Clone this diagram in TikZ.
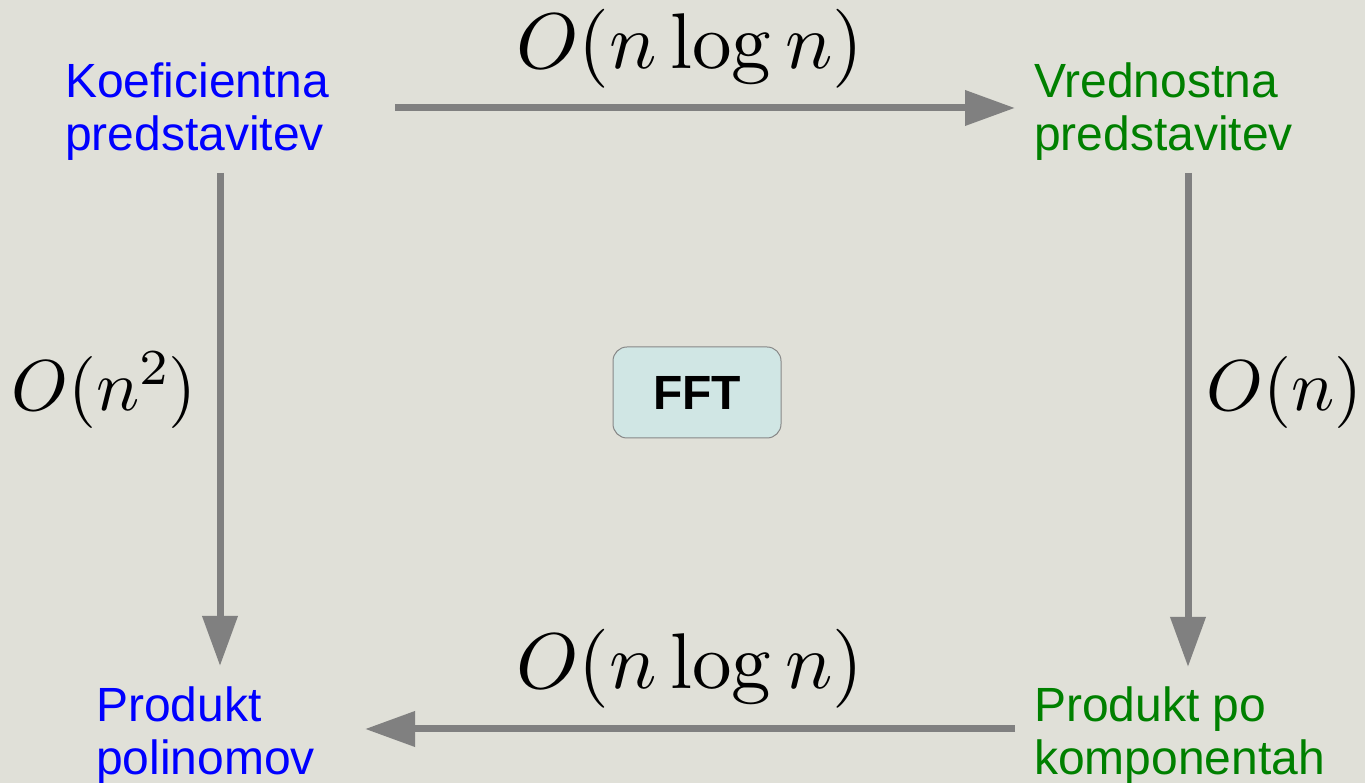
\documentclass[tikz,border=0pt]{standalone}
\usepackage{fix-cm}
\usepackage[no-math]{fontspec}
\setmainfont{Liberation Sans}
\DeclareFontShape{OT1}{cmr}{m}{n}{<-60>cmr7 <60->cmr10}{}
\DeclareFontShape{OML}{cmm}{m}{it}{<-60>cmmi7 <60->cmmi10}{}
\DeclareFontShape{OMS}{cmsy}{m}{n}{<-60>cmsy7 <60->cmsy10}{}
\usetikzlibrary{arrows.meta}
\definecolor{bg}{RGB}{224,224,216}
\definecolor{arr}{RGB}{128,128,128}
\definecolor{lblue}{RGB}{0,0,255}
\definecolor{lgreen}{RGB}{0,128,0}
\definecolor{boxfill}{RGB}{208,230,228}
\definecolor{boxdraw}{RGB}{135,135,135}
\tikzset{
  lbl/.style={anchor=north west, inner sep=0pt, align=left, font=\fontsize{48}{53}\selectfont},
  cost/.style={inner sep=0pt, font=\fontsize{79}{80}\selectfont},
  vcost/.style={inner sep=0pt, font=\fontsize{72}{76}\selectfont, anchor=base west},
  conn/.style={draw=arr, line width=7pt, -{Triangle[length=50pt,width=34pt]}},
  fftbox/.style={draw=boxdraw, fill=boxfill, rounded corners=14pt, line width=1pt,
    minimum width=168pt, minimum height=91pt, font=\fontsize{48}{50}\selectfont\bfseries}
}
\begin{document}
\begin{tikzpicture}[x=1pt,y=1pt]
\useasboundingbox[fill=bg] (0,0) rectangle (1365,783);
\node[lbl, text=lblue] (koef) at (65,720) {Koeficientna\\predstavitev};
\node[lbl, text=lgreen] (vred) at (1034,720) {Vrednostna\\predstavitev};
\node[lbl, text=lblue] (prodpol) at (96,96) {Produkt\\polinomov};
\node[lbl, text=lgreen] (prodkomp) at (1034,96) {Produkt po\\komponentah};
\node[cost, anchor=base] (ctop) at (690,714) {$O(n\log n)$};
\node[cost, anchor=base] (cbot) at (690,94) {$O(n\log n)$};
\node[vcost] (cleft) at (11,372) {$O(n^2)$};
\node[vcost] (cright) at (1206,372) {$O(n)$};
\node[fftbox] (fft) at (697,390.5) {FFT};
\coordinate (t1) at (395,675);
\coordinate (t2) at (1015,675);
\coordinate (l1) at (220,610);
\coordinate (l2) at (220,117);
\coordinate (r1) at (1188,610);
\coordinate (r2) at (1188,116);
\coordinate (b1) at (1015,54);
\coordinate (b2) at (365,54);
\draw[conn] (t1) -- (t2);
\draw[conn] (l1) -- (l2);
\draw[conn] (r1) -- (r2);
\draw[conn] (b1) -- (b2);
\end{tikzpicture}
\end{document}
